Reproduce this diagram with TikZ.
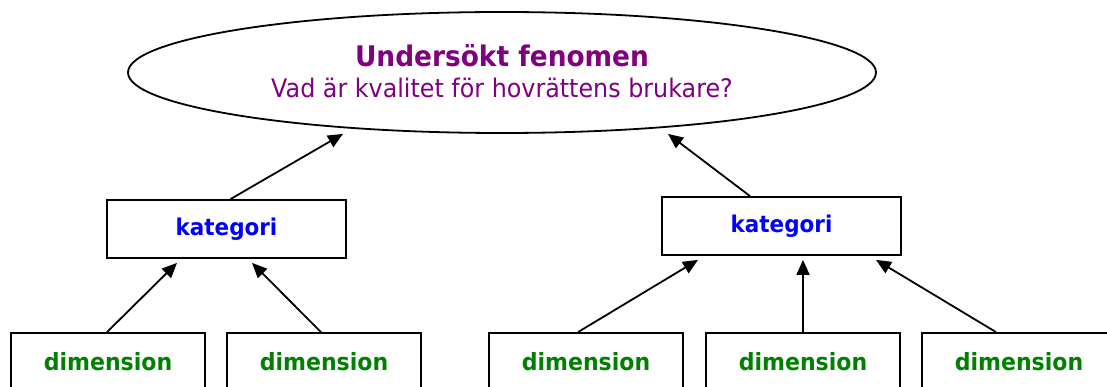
\documentclass[tikz,border=0pt]{standalone}
\usepackage{fontspec}
\setmainfont{DejaVu Sans}[FakeStretch=0.93]
\usetikzlibrary{shapes.geometric,arrows.meta}
\definecolor{phen}{HTML}{800080}
\definecolor{catc}{HTML}{0000FF}
\definecolor{dimc}{HTML}{008000}
\begin{document}
\begin{tikzpicture}[x=1pt,y=-1pt,
  box/.style={draw,line width=1.8pt,rectangle,inner sep=0pt},
  catbox/.style={box,minimum width=239pt,minimum height=58pt,text=catc,font=\fontsize{23.1}{26}\selectfont\bfseries},
  dimbox/.style={box,minimum width=194pt,minimum height=58pt,text=dimc,font=\fontsize{23.7}{26}\selectfont\bfseries},
  arr/.style={line width=1.8pt,-{Triangle[length=15pt,width=13pt]}}]
\path[use as bounding box,clip] (0,0) rectangle (1107,387);
% phenomenon
\node[draw,ellipse,line width=1.8pt,minimum width=748pt,minimum height=121pt,inner sep=0pt] (ell) at (502,72.5) {};
\node[anchor=base,text=phen,inner sep=0pt,font=\fontsize{28.4}{32}\selectfont\bfseries] (t1) at (502,67) {Undersökt fenomen};
\node[anchor=base,text=phen,inner sep=0pt,font=\fontsize{25.6}{30}\selectfont] (t2) at (502,98) {Vad är kvalitet för hovrättens brukare?};
% categories
\node[catbox] (lcat) at (226.5,229) {kategori};
\node[catbox] (rcat) at (781.5,226) {kategori};
% dimensions
\node[dimbox] (d1) at (108,362) {dimension};
\node[dimbox] (d2) at (324,362) {dimension};
\node[dimbox] (d3) at (586,362) {dimension};
\node[dimbox] (d4) at (803,362) {dimension};
\node[dimbox] (d5) at (1019,362) {dimension};
% arrows
\draw[arr] ([xshift=4pt]lcat.north) -- ([xshift=-159pt]ell.south);
\draw[arr] ([xshift=-31.5pt]rcat.north) -- ([xshift=166pt]ell.south);
\draw[arr] ([xshift=-1pt]d1.north) -- ([xshift=-49.5pt,yshift=-4pt]lcat.south);
\draw[arr] ([xshift=-3pt]d2.north) -- ([xshift=25.5pt,yshift=-4pt]lcat.south);
\draw[arr] ([xshift=-8pt]d3.north) -- ([xshift=-83.5pt,yshift=-4pt]rcat.south);
\draw[arr] (d4.north) -- ([xshift=21.5pt,yshift=-4pt]rcat.south);
\draw[arr] ([xshift=-23pt]d5.north) -- ([xshift=94.5pt,yshift=-4pt]rcat.south);
\end{tikzpicture}
\end{document}
